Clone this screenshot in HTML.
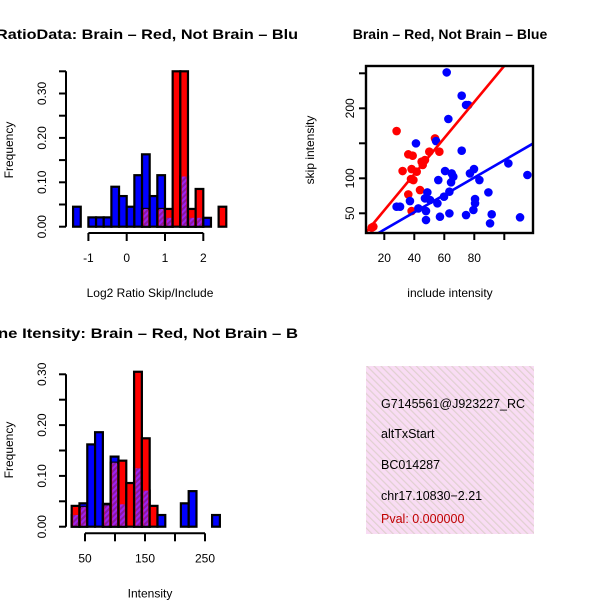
<!DOCTYPE html>
<html><head><meta charset="utf-8"><style>
html,body{margin:0;padding:0;background:#fff;}
svg{display:block;font-family:"Liberation Sans",Helvetica,sans-serif;}
</style></head><body>
<svg id="chart" width="600" height="600" viewBox="0 0 600 600" xmlns="http://www.w3.org/2000/svg">
<defs>
<pattern id="hatchP" patternUnits="userSpaceOnUse" width="4" height="4" patternTransform="rotate(45)">
<rect width="4" height="4" fill="#a020f0"/><rect width="2" height="4" fill="#8a1aa0"/>
</pattern>
<pattern id="pinkP" patternUnits="userSpaceOnUse" width="5" height="5" patternTransform="rotate(-45)">
<rect width="5" height="5" fill="#f9dcf4"/><rect width="1.2" height="5" fill="#e0d0d0"/>
</pattern>
<clipPath id="clipL"><rect x="0" y="0" width="300" height="600"/></clipPath>
<clipPath id="clipS"><rect x="366" y="66" width="167" height="167"/></clipPath>
<clipPath id="clipB"><rect x="366" y="366" width="168" height="168"/></clipPath>
</defs>
<g id="tl"></g>
<g id="tr"></g>
<g id="bl"></g>
<g>
<rect x="366" y="366" width="168" height="168" fill="url(#pinkP)"/>
<g clip-path="url(#clipB)" font-size="12.5">
<text x="381" y="408">G7145561@J923227_RC</text>
<text x="381" y="438">altTxStart</text>
<text x="381" y="469">BC014287</text>
<text x="381" y="500">chr17.10830−2.21</text>
<text x="381" y="523" fill="#c00000">Pval: 0.000000</text>
</g></g>
</svg>
<script>
// ---- top-left histogram data ----
const ratioStart = -1.4, ratioWidth = 0.2;
const ratioBlue = [0.045,0,0.021,0.021,0.021,0.09,0.069,0.045,0.116,0.163,0.069,0.116,0.02,0,0.113,0.02,0.02,0.02,0,0];
const ratioRed  = [0,0,0,0,0,0,0,0,0,0.04,0,0.04,0.04,0.35,0.35,0.04,0.085,0,0,0.045];
const ratioXTicks = [-1,0,1,2];
const histYTicks = [0,0.05,0.1,0.15,0.2,0.25,0.3,0.35];
const histYLabels = ["0.00","0.10","0.20","0.30"];
// ---- bottom-left histogram data ----
const intStart = 27.8, intWidth = 13;
const intBlue = [0.023,0.046,0.162,0.186,0.045,0.138,0.044,0,0.115,0.071,0,0.023,0,0,0.046,0.07,0,0,0.023];
const intRed  = [0.041,0.039,0,0,0.042,0.126,0.13,0.086,0.305,0.174,0.041,0,0,0,0,0,0,0,0];
const intXTicks = [50,100,150,200,250];
const intXLabels = ["50","","150","","250"];
// ---- scatter data ----
const redX = [11.6,28.2,36.0,38.9,32.2,38.2,41.6,37.8,39.4,44.9,47.1,45.6,50.0,53.8,56.7,36.0,43.8,38.2,12.7];
const redY = [29.4,167.5,134.2,132.3,110.4,113.2,109.4,99.0,97.5,123.7,126.1,119.0,138.0,157.0,138.0,77.0,83.2,53.2,30.9];
const blueX = [61.6,71.6,74.5,76.0,62.7,41.1,54.5,71.6,60.5,64.9,66.0,64.5,56.0,77.1,79.8,83.4,102.7,115.4,48.7,63.4,59.8,89.4,37.1,47.1,50.5,55.4,80.5,80.5,79.4,28.2,30.5,42.7,47.8,47.8,57.1,63.4,74.5,91.6,90.5,110.5];
const blueY = [251.3,218.0,204.7,204.7,184.7,149.9,153.2,139.4,110.4,107.0,102.3,94.2,97.5,107.0,113.2,97.5,121.3,104.7,79.9,80.9,73.7,79.9,67.5,71.3,69.0,64.2,70.4,64.2,54.7,59.4,59.4,57.0,53.2,40.4,45.1,49.9,47.5,48.5,35.6,44.2];
const redFit = [2.7, 2.58];
const blueFit = [1.9, 1.24];
const scXTicks = [20,40,60,80,100];
const scXLabels = ["20","40","60","80",""];
const scYTicks = [50,100,150,200,250];
const scYLabels = ["50","100","","200",""];

const NS="http://www.w3.org/2000/svg";
function mk(parent,tag,attrs,text){const e=document.createElementNS(NS,tag);for(const k in attrs)e.setAttribute(k,attrs[k]);if(text!==undefined)e.textContent=text;parent.appendChild(e);return e;}

function histogram(g,opt){
  const sx=v=>opt.x0+(v-opt.v0)*opt.kx, sy=v=>opt.y0-v*opt.ky;
  const t=mk(g,'text',{x:opt.tx,y:opt.ty,'font-size':14,'font-weight':'bold','text-anchor':'start',textLength:opt.tlen,lengthAdjust:'spacingAndGlyphs','clip-path':'url(#clipL)'},opt.title);
  
  const st={stroke:'#000','stroke-width':2.2};
  for(let i=0;i<opt.blue.length;i++){
    const xa=sx(opt.start+i*opt.w), xb=sx(opt.start+(i+1)*opt.w);
    const b=opt.blue[i], r=opt.red[i];
    if(b>0){const e=mk(g,'rect',Object.assign({x:xa,y:sy(b),width:xb-xa,height:sy(0)-sy(b),fill:'#0000ff'},st));
      }
    if(r>0){const e=mk(g,'rect',Object.assign({x:xa,y:sy(r),width:xb-xa,height:sy(0)-sy(r),fill:'#ff0000'},st));
      }
    const m=Math.min(b,r);
    if(m>0){const e=mk(g,'rect',{x:xa+1.5,y:sy(m),width:xb-xa-3,height:sy(0)-sy(m)-1,fill:'url(#hatchP)'});
      }
  }
  const ya=mk(g,'line',{x1:opt.ax,x2:opt.ax,y1:sy(0),y2:sy(opt.ymax),stroke:'#000','stroke-width':2});
  
  opt.yt.forEach(v=>{ if(v<=opt.ymax+1e-9) mk(g,'line',{x1:opt.ax-7,x2:opt.ax,y1:sy(v),y2:sy(v),stroke:'#000','stroke-width':2}); });
  histYLabels.forEach((s,i)=>{const v=i*0.1; if(v>opt.ymax+1e-9)return;
    const e=mk(g,'text',{x:0,y:0,'font-size':12,'text-anchor':'middle',transform:`translate(${opt.ax-20},${sy(v)}) rotate(-90)`},s);
    });
  const xa=mk(g,'line',{x1:sx(opt.xt[0]),x2:sx(opt.xt[opt.xt.length-1]),y1:opt.axY,y2:opt.axY,stroke:'#000','stroke-width':2});
  
  opt.xt.forEach((v,i)=>{mk(g,'line',{x1:sx(v),x2:sx(v),y1:opt.axY,y2:opt.axY+8,stroke:'#000','stroke-width':2});
    if(opt.xl[i]){const e=mk(g,'text',{x:sx(v),y:opt.axY+29,'font-size':12,'text-anchor':'middle'},opt.xl[i]);
      }});
  const xt=mk(g,'text',{x:150,y:opt.axY+64,'font-size':12,'text-anchor':'middle'},opt.xtitle);
  
  const yt=mk(g,'text',{x:0,y:0,'font-size':12,'text-anchor':'middle',transform:`translate(13,${opt.ymid}) rotate(-90)`},'Frequency');
  
}

histogram(document.getElementById('tl'),{x0:126.7,v0:0,kx:38.3,y0:226.7,ky:444,start:ratioStart,w:ratioWidth,blue:ratioBlue,red:ratioRed,
  ax:66,ymax:0.35,yt:histYTicks,xt:ratioXTicks,xl:ratioXTicks.map(String),axY:233,ymid:150,
  xtitle:'Log2 Ratio Skip/Include',title:'RatioData: Brain – Red, Not Brain – Blu',tx:-4,ty:39,tlen:302});
histogram(document.getElementById('bl'),{x0:85,v0:50,kx:0.6,y0:526.7,ky:508,start:intStart,w:intWidth,blue:intBlue,red:intRed,
  ax:66,ymax:0.30,yt:histYTicks,xt:intXTicks,xl:intXLabels,axY:533.3,ymid:450,
  xtitle:'Intensity',title:'ne Itensity: Brain – Red, Not Brain – B',tx:-2,ty:338,tlen:300});

(function(){
  const g=document.getElementById('tr');
  const sx=v=>384.3+(v-20)*1.5, sy=v=>178.3-(v-100)*0.7;
  const t=mk(g,'text',{x:450,y:39,'font-size':14,'font-weight':'bold','text-anchor':'middle'},'Brain – Red, Not Brain – Blue');
  
  const cg=mk(g,'g',{'clip-path':'url(#clipS)'});
  for(let i=0;i<redX.length;i++){const c=mk(cg,'circle',{cx:sx(redX[i]),cy:sy(redY[i]),r:4.3,fill:'#ff0000'});
    }
  for(let i=0;i<blueX.length;i++){const c=mk(cg,'circle',{cx:sx(blueX[i]),cy:sy(blueY[i]),r:4.3,fill:'#0000ff'});
    }
  [[redFit,'#ff0000','fit-line-red'],[blueFit,'#0000ff','fit-line-blue']].forEach(([f,col,nm])=>{
    const l=mk(cg,'line',{x1:sx(0),y1:sy(f[0]),x2:sx(130),y2:sy(f[0]+f[1]*130),stroke:col,'stroke-width':2.6});
    });
  const box=mk(g,'rect',{x:366,y:66,width:167,height:167,fill:'none',stroke:'#000','stroke-width':2.4});
  
  scXTicks.forEach((v,i)=>{mk(g,'line',{x1:sx(v),x2:sx(v),y1:233,y2:240,stroke:'#000','stroke-width':2});
    if(scXLabels[i]){const e=mk(g,'text',{x:sx(v),y:262,'font-size':12,'text-anchor':'middle'},scXLabels[i]);
      }});
  scYTicks.forEach((v,i)=>{mk(g,'line',{x1:359,x2:366,y1:sy(v),y2:sy(v),stroke:'#000','stroke-width':2});
    if(scYLabels[i]){const e=mk(g,'text',{x:0,y:0,'font-size':12,'text-anchor':'middle',transform:`translate(354,${sy(v)}) rotate(-90)`},scYLabels[i]);
      }});
  const xt=mk(g,'text',{x:450,y:297,'font-size':12,'text-anchor':'middle'},'include intensity');
  
  const yt=mk(g,'text',{x:0,y:0,'font-size':12,'text-anchor':'middle',transform:'translate(314,150) rotate(-90)'},'skip intensity');
  
})();
</script>
</body></html>
